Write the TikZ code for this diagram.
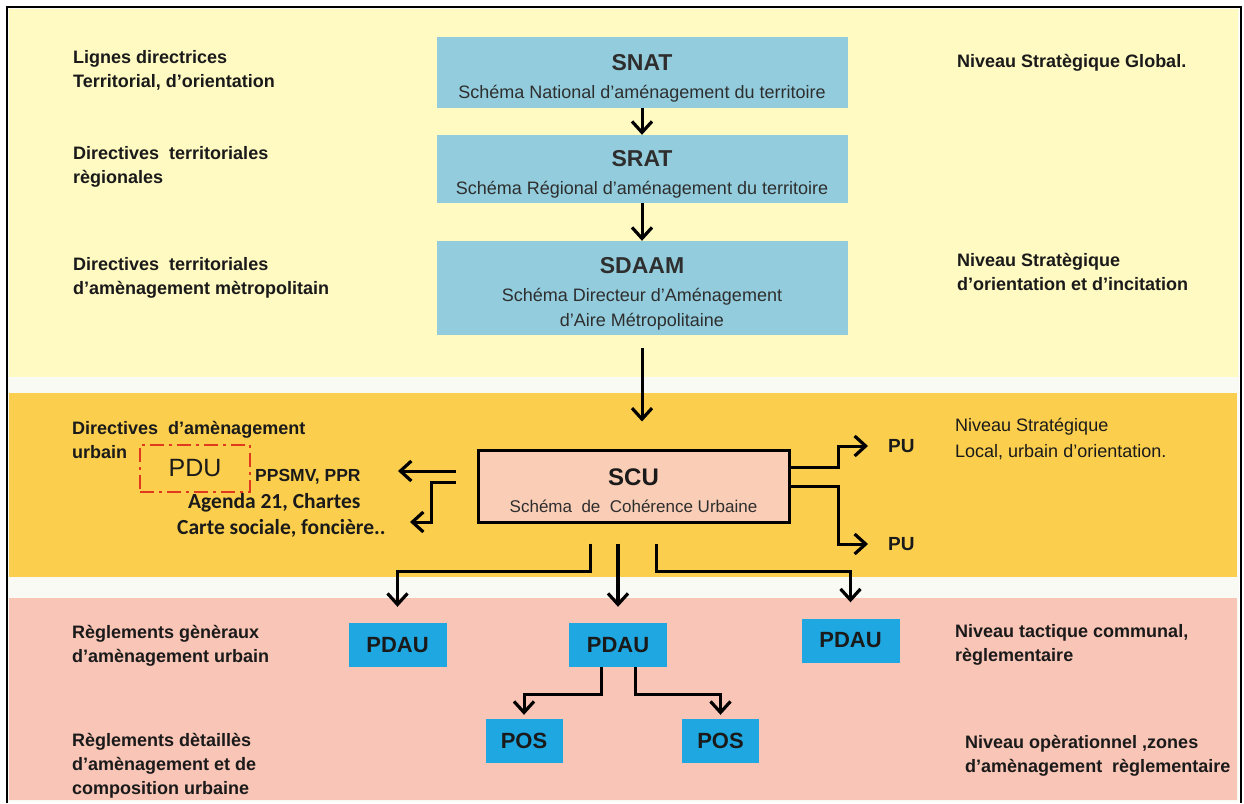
\documentclass[tikz,border=0pt]{standalone}
\usepackage{fontspec}
\setmainfont{Liberation Sans}
\newfontfamily\calfont{Carlito}
\usetikzlibrary{arrows.meta}

\definecolor{bandyellow}{HTML}{FFF9C2}
\definecolor{bandorange}{HTML}{FBCF4D}
\definecolor{bandpink}{HTML}{F9C5B6}
\definecolor{stripwhite}{HTML}{F9FAF4}
\definecolor{skyblue}{HTML}{93CDDD}
\definecolor{vividblue}{HTML}{1EA7E1}
\definecolor{scufill}{HTML}{FACDB6}
\definecolor{pdured}{HTML}{E0391E}
\definecolor{ink}{HTML}{1A1A1A}
\definecolor{subink}{HTML}{2E2E2E}

% box titles; the strut lowers the text block inside its box
\newcommand\ttlfont{\fontsize{23}{27}\selectfont\bfseries\rule{0pt}{27pt}}

\begin{document}
\begin{tikzpicture}[x=1pt,y=-1pt,
  every node/.style={inner sep=0pt},
  lbl/.style={anchor=west, align=left, text=ink, font=\fontsize{18}{24}\selectfont\bfseries},
  lblreg/.style={anchor=west, align=left, text=ink, font=\fontsize{18}{26}\selectfont},
  bluebox/.style={fill=skyblue, minimum width=411pt, align=center, text=subink, font=\fontsize{18}{25}\selectfont},
  planbox/.style={fill=vividblue, minimum width=98pt, minimum height=44pt, text=ink, font=\fontsize{22}{24}\selectfont\bfseries},
  conn/.style={draw=black, line width=3pt, -{Straight Barb[length=11pt,width=20pt,line width=3.2pt]}},
]
\useasboundingbox (0,0) rectangle (1244,803);
\fill[white] (0,0) rectangle (1244,803);

% horizontal bands
\fill[stripwhite] (8,8) rectangle (1239,802);
\fill[bandyellow] (9,9) rectangle (1238,377);
\fill[bandorange] (9,393) rectangle (1237,577);
\fill[bandpink] (9,598) rectangle (1237,800);
\draw[line width=1.5pt] (7,803) -- (7,7) -- (1241,7) -- (1241,803);

% strategic chain
\node[bluebox, minimum height=71pt] (snat) at (642,72.5)
  {{\ttlfont SNAT}\\[3pt]Schéma National d'aménagement du territoire};
\node[bluebox, minimum height=68pt] (srat) at (642,169)
  {{\ttlfont SRAT}\\[3pt]Schéma Régional d'aménagement du territoire};
\node[bluebox, minimum height=94pt] (sdaam) at (642,288)
  {{\ttlfont SDAAM}\\[3pt]Schéma Directeur d'Aménagement\\d'Aire Métropolitaine};

% urban coherence scheme
\node[draw=black, line width=3pt, fill=scufill, minimum width=311pt, minimum height=72pt,
      align=center, text=subink, font=\fontsize{17}{26}\selectfont] (scu) at (633.5,486)
  {{\fontsize{24}{28}\selectfont\bfseries\color{ink}\rule{0pt}{26pt}SCU}\\[1pt]Schéma\ \ de\ \ Cohérence Urbaine};

\node[draw=pdured, line width=2.5pt, dash pattern=on 14pt off 5pt on 3pt off 5pt,
      minimum width=110pt, minimum height=47pt, text=ink, font=\fontsize{25}{28}\selectfont] (pdu) at (195,468.5) {PDU};
\node[anchor=west, text=ink, font=\fontsize{17.5}{20}\selectfont\bfseries] (ppsmv) at (255,477) {PPSMV, PPR};
\node[anchor=west, text=ink, font=\calfont\fontsize{21.5}{24}\selectfont\bfseries] (agenda) at (188,503) {Agenda 21, Chartes};
\node[anchor=west, text=ink, font=\calfont\fontsize{21.5}{24}\selectfont\bfseries] (carte) at (177,528) {Carte sociale, foncière..};

\node[anchor=west, text=ink, font=\fontsize{19}{22}\selectfont\bfseries] (pu1) at (888,446) {PU};
\node[anchor=west, text=ink, font=\fontsize{19}{22}\selectfont\bfseries] (pu2) at (888,544) {PU};

% plans
\node[planbox] (pdauL) at (397.5,645) {PDAU};
\node[planbox] (pdauM) at (618,645) {PDAU};
\node[planbox] (pdauR) at (850.5,640.5) {PDAU};
\node[planbox, minimum width=77pt] (posL) at (524,741) {POS};
\node[planbox, minimum width=77pt] (posR) at (720.5,741) {POS};

% left column
\node[lbl] (l1) at (73,70) {Lignes directrices\\Territorial, d'orientation};
\node[lbl] (l2) at (73,167) {Directives\ \ territoriales\\règionales};
\node[lbl] (l3) at (73,278) {Directives\ \ territoriales\\d'amènagement mètropolitain};
\node[lbl] (l4) at (72,440) {Directives\ \ d'amènagement\\urbain};
\node[lbl] (l5) at (72,646) {Règlements gènèraux\\d'amènagement urbain};
\node[lbl] (l6) at (72,766) {Règlements dètaillès\\d'amènagement et de\\composition urbaine};

% right column
\node[lbl] (r1) at (957,63) {Niveau Stratègique Global.};
\node[lbl] (r2) at (957,272) {Niveau Stratègique\\d'orientation et d'incitation};
\node[lblreg] (r3) at (955,439) {Niveau Stratégique\\Local, urbain d'orientation.};
\node[lbl] (r4) at (955,645) {Niveau tactique communal,\\règlementaire};
\node[lbl] (r5) at (965,756) {Niveau opèrationnel ,zones\\d'amènagement\ \ règlementaire};

% connectors
\draw[conn] (snat) -- (srat);
\draw[conn] (srat) -- (sdaam);
\draw[conn, shorten <=13pt, shorten >=27pt] (sdaam.south) -- (sdaam.south |- scu.north);

\coordinate (dl1) at (398,471);
\coordinate (dl2) at (410,522);
\draw[conn, shorten <=21pt] (scu.west |- dl1) -- (dl1);
\draw[conn, shorten <=21pt] ([yshift=4pt]scu.west) -- ++(-45,0) |- (dl2);

\draw[conn, shorten >=20pt] ([yshift=19pt]scu.east) -- ++(48,0) |- (pu1.west);
\draw[conn, shorten >=20pt] (scu.east) -- ++(48,0) |- (pu2.west);

\coordinate (kL) at (590,571);
\coordinate (kR) at (656,571);
\draw[conn, shorten <=20pt, shorten >=16pt] (scu.south -| kL) -- (kL) -| (pdauL.north);
\draw[conn, line width=4pt, shorten <=20pt, shorten >=16pt] (scu.south -| pdauM.north) -- (pdauM.north);
\draw[conn, shorten <=20pt, shorten >=16pt] (scu.south -| kR) -- (kR) -| (pdauR.north);

\draw[conn, shorten >=4pt] ([xshift=-17pt]pdauM.south) -- ++(0,27) -| (posL.north);
\draw[conn, shorten >=4pt] ([xshift=17pt]pdauM.south) -- ++(0,27) -| (posR.north);
\end{tikzpicture}
\end{document}
